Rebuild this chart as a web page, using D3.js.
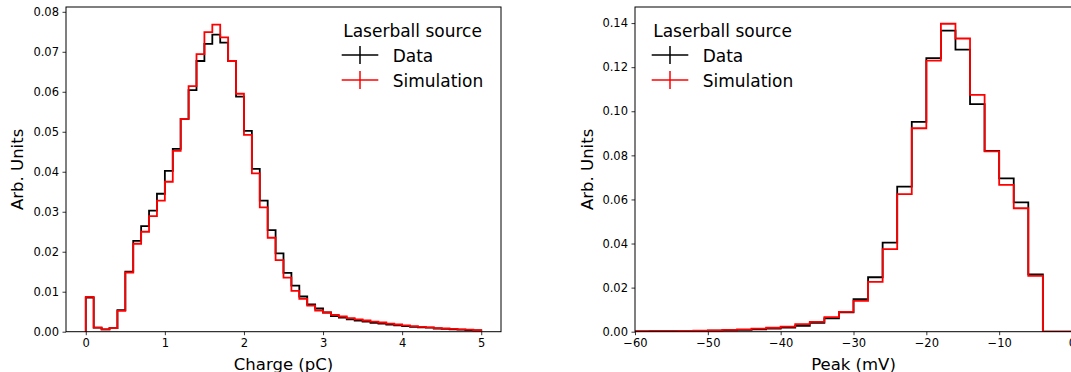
<!DOCTYPE html>
<html>
<head>
<meta charset="utf-8">
<script src="https://cdn.jsdelivr.net/npm/d3@7"></script>
<style>
  html, body { margin: 0; padding: 0; background: #fff; }
  svg { display: block; }
  text { font-family: "DejaVu Sans", sans-serif; fill: #000; }
</style>
</head>
<body>
<svg id="chart" width="1071" height="372"></svg>
<script>
// ---- Data ----
// Left panel: Charge (pC), 50 bins of 0.1 pC from 0 to 5
const chargeBinStart = 0;
const chargeBinWidth = 0.1;
const chargeData = [
  0.0085, 0.0010, 0.0006, 0.0009, 0.0054, 0.0150, 0.0227, 0.0264, 0.0303, 0.0345,
  0.0402, 0.0457, 0.0532, 0.0604, 0.0677, 0.0720, 0.0743, 0.0723, 0.0677, 0.0588,
  0.0502, 0.0407, 0.0328, 0.0254, 0.0196, 0.0147, 0.0115, 0.0088, 0.0068, 0.0058,
  0.0048, 0.0039, 0.0035, 0.0031, 0.0028, 0.0025, 0.0022, 0.0020, 0.0018, 0.0016,
  0.0014, 0.0012, 0.0011, 0.0010, 0.0008, 0.0007, 0.0006, 0.0005, 0.0004, 0.0003
];
const chargeSim = [
  0.0087, 0.0010, 0.0006, 0.0009, 0.0052, 0.0148, 0.0220, 0.0250, 0.0289, 0.0328,
  0.0375, 0.0452, 0.0532, 0.0614, 0.0694, 0.0749, 0.0768, 0.0736, 0.0677, 0.0595,
  0.0492, 0.0396, 0.0311, 0.0235, 0.0179, 0.0135, 0.0102, 0.0082, 0.0065, 0.0053,
  0.0048, 0.0042, 0.0038, 0.0034, 0.0031, 0.0028, 0.0025, 0.0023, 0.0020, 0.0018,
  0.0016, 0.0014, 0.0012, 0.0011, 0.0009, 0.0008, 0.0007, 0.0006, 0.0005, 0.0004
];
const chargeXTicks = [0, 1, 2, 3, 4, 5];
const chargeYTicks = [0, 0.01, 0.02, 0.03, 0.04, 0.05, 0.06, 0.07, 0.08];

// Right panel: Peak (mV), 30 bins of 2 mV from -60 to 0
const peakBinStart = -60;
const peakBinWidth = 2;
const peakData = [
  0.0001, 0.0002, 0.0002, 0.0003, 0.0004, 0.0005, 0.0006, 0.0008, 0.0011, 0.0014,
  0.0019, 0.0027, 0.0040, 0.0060, 0.0088, 0.0148, 0.0247, 0.0404, 0.0658, 0.0952,
  0.1241, 0.1366, 0.1280, 0.1032, 0.0820, 0.0696, 0.0587, 0.0260, 0, 0
];
const peakSim = [
  0.0002, 0.0002, 0.0003, 0.0004, 0.0005, 0.0006, 0.0008, 0.0011, 0.0014, 0.0018,
  0.0023, 0.0034, 0.0045, 0.0066, 0.0090, 0.0140, 0.0226, 0.0375, 0.0624, 0.0923,
  0.1230, 0.1397, 0.1330, 0.1074, 0.0818, 0.0666, 0.0560, 0.0253, 0, 0
];
const peakXTicks = [-60, -50, -40, -30, -20, -10, 0];
const peakYTicks = [0, 0.02, 0.04, 0.06, 0.08, 0.10, 0.12, 0.14];

const legendTitle = "Laserball source";
const seriesNames = ["Data", "Simulation"];
const seriesColors = ["#000000", "#ff0000"];

// ---- Drawing ----
const svg = d3.select("#chart");

function panel(cfg) {
  const { left, right, top, bottom, xDomain, yDomain, binStart, binWidth, series,
          xTicks, yTicks, xFmt, yFmt, xLabel, yLabelX, legendX, id } = cfg;
  const x = d3.scaleLinear().domain(xDomain).range([left, right]);
  const y = d3.scaleLinear().domain(yDomain).range([bottom, top]);

  svg.append("clipPath").attr("id", id)
    .append("rect").attr("x", left).attr("y", top)
    .attr("width", right - left).attr("height", bottom - top);

  const g = svg.append("g").attr("clip-path", `url(#${id})`);
  const line = d3.line().x(d => x(d[0])).y(d => y(d[1]));

  series.forEach((vals, si) => {
    const pts = [[binStart, 0]];
    vals.forEach((v, i) => {
      pts.push([binStart + i * binWidth, v]);
      pts.push([binStart + (i + 1) * binWidth, v]);
    });
    pts.push([binStart + vals.length * binWidth, 0]);
    g.append("path").attr("d", line(pts))
      .attr("fill", "none").attr("stroke", seriesColors[si])
      .attr("stroke-width", 1.8).attr("stroke-linejoin", "miter");
  });

  // axes
  const xa = svg.append("g").attr("transform", `translate(0,${bottom})`)
    .call(d3.axisBottom(x).tickValues(xTicks).tickFormat(xFmt).tickSize(3.5).tickPadding(3.5));
  const ya = svg.append("g").attr("transform", `translate(${left},0)`)
    .call(d3.axisLeft(y).tickValues(yTicks).tickFormat(yFmt).tickSize(3.5).tickPadding(3.5));
  [xa, ya].forEach(a => {
    a.select(".domain").remove();
    a.selectAll("line").attr("stroke", "#000").attr("stroke-width", 0.8);
    a.selectAll("text").style("font-family", "DejaVu Sans").style("font-size", "11.5px").attr("fill", "#000");
  });

  // frame
  svg.append("rect").attr("x", left).attr("y", top)
    .attr("width", right - left).attr("height", bottom - top)
    .attr("fill", "none").attr("stroke", "#000").attr("stroke-width", 1);

  // labels
  svg.append("text").attr("x", (left + right) / 2).attr("y", 370)
    .attr("text-anchor", "middle").style("font-size", "16.5px").text(xLabel);
  svg.append("text").attr("transform", `translate(${yLabelX},${(top + bottom) / 2}) rotate(-90)`)
    .attr("text-anchor", "middle").style("font-size", "16.5px").text("Arb. Units");

  // legend
  svg.append("text").attr("x", legendX + 1.5).attr("y", 37)
    .style("font-size", "17px").text(legendTitle);
  seriesNames.forEach((name, i) => {
    const cy = 55 + i * 25;
    svg.append("line").attr("x1", legendX).attr("x2", legendX + 36.6)
      .attr("y1", cy).attr("y2", cy)
      .attr("stroke", seriesColors[i]).attr("stroke-width", 1.5);
    svg.append("line").attr("x1", legendX + 18.3).attr("x2", legendX + 18.3)
      .attr("y1", cy - 9).attr("y2", cy + 9)
      .attr("stroke", seriesColors[i]).attr("stroke-width", 1.5);
    svg.append("text").attr("x", legendX + 51).attr("y", cy + 6.5)
      .style("font-size", "17px").text(name);
  });
}

panel({
  id: "clipL", left: 66, right: 501, top: 7, bottom: 331.7,
  xDomain: [-0.25, 5.25], yDomain: [0, 0.0812],
  binStart: chargeBinStart, binWidth: chargeBinWidth,
  series: [chargeData, chargeSim],
  xTicks: chargeXTicks, yTicks: chargeYTicks,
  xFmt: d3.format("d"), yFmt: d3.format(".2f"),
  xLabel: "Charge (pC)", yLabelX: 23, legendX: 341.7
});

panel({
  id: "clipR", left: 635, right: 1072, top: 7, bottom: 331.7,
  xDomain: [-60, 0], yDomain: [0, 0.1473],
  binStart: peakBinStart, binWidth: peakBinWidth,
  series: [peakData, peakSim],
  xTicks: peakXTicks, yTicks: peakYTicks,
  xFmt: d3.format("d"), yFmt: d3.format(".2f"),
  xLabel: "Peak (mV)", yLabelX: 593, legendX: 651.7
});
</script>
</body>
</html>
